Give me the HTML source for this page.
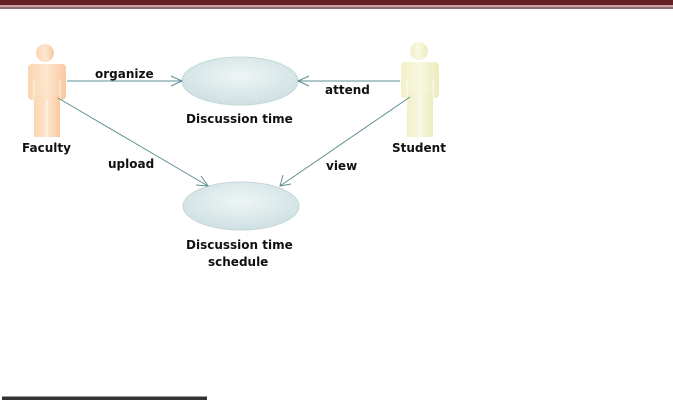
<!DOCTYPE html>
<html><head><style>
body{margin:0;width:673px;height:402px;background:#fff;overflow:hidden}
svg{display:block}
text{font-family:"DejaVu Sans","Liberation Sans",sans-serif;font-weight:bold;font-size:12px;fill:#111}
</style></head><body>
<svg width="673" height="402" viewBox="0 0 673 402">
<defs>
<radialGradient id="eg" cx="50%" cy="40%" r="60%">
<stop offset="0" stop-color="#eef5f5"/><stop offset="1" stop-color="#cfe0e2"/>
</radialGradient>
<linearGradient id="fg" x1="0" x2="1"><stop offset="0" stop-color="#fbd5b0"/><stop offset="0.5" stop-color="#fde6cf"/><stop offset="1" stop-color="#f8c9a0"/></linearGradient>
<linearGradient id="sg" x1="0" x2="1"><stop offset="0" stop-color="#f1f0c8"/><stop offset="0.5" stop-color="#f8f8e0"/><stop offset="1" stop-color="#ecebbd"/></linearGradient>
</defs>
<rect x="0" y="0" width="673" height="5" fill="#632024"/>
<rect x="0" y="5" width="673" height="2" fill="#c9a0a0"/>
<rect x="0" y="7" width="673" height="2" fill="#8a7070"/>
<rect x="2" y="397" width="205" height="3" fill="#333"/>
<rect x="2" y="396" width="205" height="1" fill="#999"/>

<!-- Faculty actor -->
<g fill="url(#fg)">
<circle cx="45" cy="53" r="9"/>
<rect x="28" y="64" width="38" height="36" rx="4"/>
<rect x="34" y="95" width="26" height="42"/>
</g>
<g stroke="#fff" stroke-width="1" opacity="0.7"><line x1="34" y1="80" x2="34" y2="100"/><line x1="60" y1="80" x2="60" y2="100"/><line x1="47" y1="100" x2="47" y2="137"/></g>
<text x="22" y="152">Faculty</text>

<!-- Student actor -->
<g fill="url(#sg)">
<circle cx="419" cy="51" r="9"/>
<rect x="401" y="62" width="38" height="36" rx="4"/>
<rect x="407" y="93" width="26" height="44"/>
</g>
<g stroke="#fff" stroke-width="1" opacity="0.7"><line x1="407" y1="78" x2="407" y2="98"/><line x1="433" y1="78" x2="433" y2="98"/><line x1="420" y1="98" x2="420" y2="137"/></g>
<text x="392" y="152">Student</text>

<!-- Ellipses -->
<ellipse cx="240" cy="81" rx="58" ry="24" fill="url(#eg)" stroke="#c5d6d8"/>
<text x="186" y="123">Discussion time</text>
<ellipse cx="241" cy="206" rx="58" ry="24" fill="url(#eg)" stroke="#c5d6d8"/>
<text x="186" y="249">Discussion time</text>
<text x="208" y="266">schedule</text>

<!-- connectors -->
<g stroke="#5f8f90" stroke-width="1" fill="none">
<line x1="67" y1="81" x2="182" y2="81"/>
<polyline points="171,76 182,81 171,86"/>
<line x1="400" y1="81" x2="298" y2="81"/>
<polyline points="309,76 298,81 309,86"/>
<line x1="58" y1="98" x2="208" y2="186"/>
<polyline points="196,185 208,186 201,176"/>
<line x1="410" y1="97" x2="280" y2="186"/>
<polyline points="283,175 280,186 291,184"/>
</g>
<text x="95" y="78">organize</text>
<text x="325" y="94">attend</text>
<text x="108" y="168">upload</text>
<text x="326" y="170">view</text>
</svg>
</body></html>
